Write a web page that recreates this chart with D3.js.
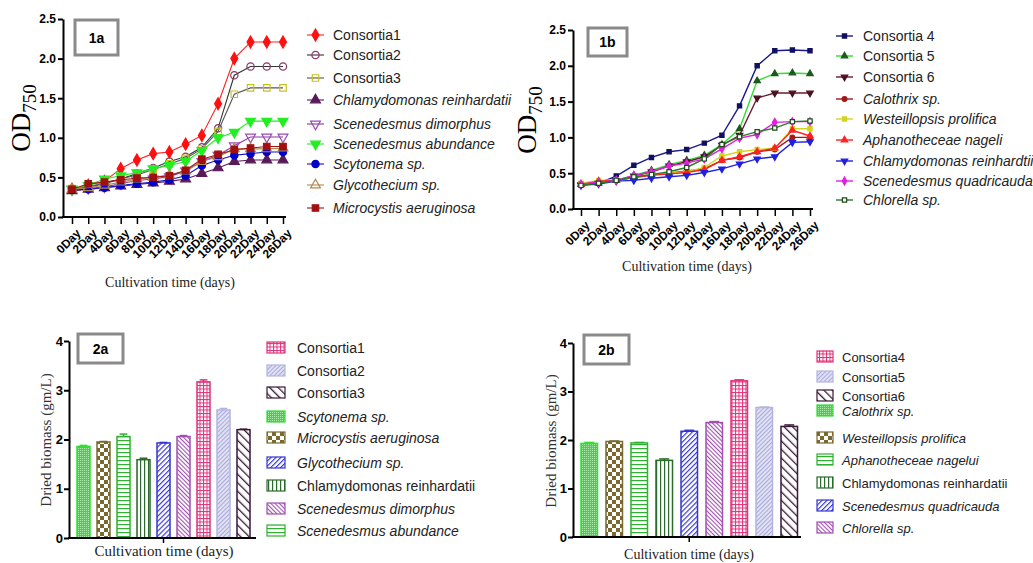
<!DOCTYPE html>
<html>
<head>
<meta charset="utf-8">
<script src="https://cdn.jsdelivr.net/npm/d3@7"></script>
<style>
body { margin: 0; background: #fff; }
svg { display: block; }
</style>
</head>
<body>
<div id="chart"></div>
<script>
// ---- data ----
const days = ['0Day', '2Day', '4Day', '6Day', '8Day', '10Day', '12Day', '14Day', '16Day', '18Day', '20Day', '22Day', '24Day', '26Day'];

// panel 1a
const names1a = ['Consortia1', 'Consortia2', 'Consortia3', 'Chlamydomonas reinhardatii', 'Scenedesmus dimorphus', 'Scenedesmus abundance', 'Scytonema sp.', 'Glycothecium sp.', 'Microcystis aeruginosa'];
const consortia1 = [0.35, 0.40, 0.45, 0.61, 0.72, 0.80, 0.82, 0.92, 1.03, 1.43, 2.00, 2.21, 2.21, 2.21];
const consortia2 = [0.35, 0.38, 0.42, 0.48, 0.55, 0.62, 0.70, 0.76, 0.88, 1.12, 1.79, 1.90, 1.90, 1.90];
const consortia3 = [0.36, 0.38, 0.43, 0.48, 0.53, 0.60, 0.67, 0.74, 0.86, 1.08, 1.55, 1.63, 1.63, 1.63];
const chlamy1a = [0.33, 0.35, 0.37, 0.39, 0.41, 0.43, 0.45, 0.48, 0.55, 0.62, 0.70, 0.72, 0.72, 0.72];
const dimorphus = [0.35, 0.36, 0.38, 0.42, 0.46, 0.48, 0.51, 0.58, 0.70, 0.78, 0.90, 1.01, 1.01, 1.01];
const abundance = [0.35, 0.40, 0.48, 0.52, 0.56, 0.61, 0.65, 0.70, 0.84, 1.00, 1.07, 1.21, 1.21, 1.21];
const scytonema = [0.34, 0.35, 0.37, 0.40, 0.42, 0.44, 0.47, 0.52, 0.65, 0.72, 0.78, 0.80, 0.82, 0.82];
const glycothecium = [0.35, 0.37, 0.40, 0.44, 0.48, 0.50, 0.53, 0.58, 0.70, 0.76, 0.86, 0.86, 0.86, 0.87];
const microcystis = [0.35, 0.42, 0.44, 0.47, 0.49, 0.50, 0.52, 0.59, 0.73, 0.79, 0.85, 0.87, 0.89, 0.89];

// panel 1b
const names1b = ['Consortia 4', 'Consortia 5', 'Consortia 6', 'Calothrix sp.', 'Westeillopsis prolifica', 'Aphanotheceae nageli', 'Chlamydomonas reinhardtii', 'Scenedesmus quadricauda', 'Chlorella sp.'];
const consortia4 = [0.35, 0.36, 0.46, 0.61, 0.72, 0.80, 0.83, 0.92, 1.03, 1.44, 2.00, 2.21, 2.22, 2.21];
const consortia5 = [0.34, 0.36, 0.40, 0.47, 0.54, 0.62, 0.68, 0.75, 0.90, 1.12, 1.79, 1.89, 1.90, 1.89];
const consortia6 = [0.34, 0.37, 0.40, 0.46, 0.52, 0.60, 0.66, 0.73, 0.89, 1.03, 1.55, 1.62, 1.62, 1.62];
const calothrix = [0.35, 0.37, 0.40, 0.44, 0.48, 0.50, 0.53, 0.56, 0.68, 0.72, 0.80, 0.83, 1.00, 1.00];
const westeillopsis = [0.36, 0.40, 0.41, 0.45, 0.48, 0.50, 0.52, 0.58, 0.74, 0.80, 0.83, 0.85, 1.12, 1.12];
const aphanotheceae = [0.34, 0.39, 0.40, 0.44, 0.47, 0.49, 0.51, 0.55, 0.68, 0.73, 0.80, 0.85, 1.10, 1.02];
const chlamy1b = [0.33, 0.35, 0.39, 0.40, 0.43, 0.45, 0.47, 0.51, 0.56, 0.63, 0.70, 0.73, 0.93, 0.94];
const quadricauda = [0.35, 0.37, 0.40, 0.47, 0.52, 0.60, 0.64, 0.70, 0.84, 0.99, 1.04, 1.21, 1.22, 1.22];
const chlorella = [0.33, 0.36, 0.40, 0.45, 0.48, 0.52, 0.58, 0.70, 0.90, 1.01, 1.08, 1.13, 1.22, 1.23];

// panel 2a (bar order left to right)
const bars2a = ['Scytonema sp.', 'Microcystis aeruginosa', 'Scenedesmus abundance', 'Chlamydomonas reinhardatii', 'Glycothecium sp.', 'Scenedesmus dimorphus', 'Consortia1', 'Consortia2', 'Consortia3'];
const biomass2a = [1.86, 1.95, 2.06, 1.59, 1.93, 2.06, 3.17, 2.60, 2.20];
const err2a = [0.02, 0.01, 0.05, 0.03, 0.01, 0.02, 0.04, 0.03, 0.01];
const legend2a = ['Consortia1', 'Consortia2', 'Consortia3', 'Scytonema sp.', 'Microcystis aeruginosa', 'Glycothecium sp.', 'Chlamydomonas reinhardatii', 'Scenedesmus dimorphus', 'Scenedesmus abundance'];

// panel 2b
const bars2b = ['Calothrix sp.', 'Westeillopsis prolifica', 'Aphanotheceae nagelui', 'Chlamydomonas reinhardatii', 'Scenedesmus quadricauda', 'Chlorella sp.', 'Consortia4', 'Consortia5', 'Consortia6'];
const biomass2b = [1.93, 1.97, 1.94, 1.58, 2.18, 2.36, 3.22, 2.67, 2.28];
const err2b = [0.02, 0.01, 0.01, 0.03, 0.02, 0.02, 0.02, 0.01, 0.03];
const legend2b = ['Consortia4', 'Consortia5', 'Consortia6', 'Calothrix sp.', 'Westeillopsis prolifica', 'Aphanotheceae nagelui', 'Chlamydomonas reinhardatii', 'Scenedesmus quadricauda', 'Chlorella sp.'];

// ---- styles ----
const style1a = [
    { line: '#ff2020', stroke: '#ff1010', fill: '#ff1010', sym: 'diamond' },
    { line: '#333', stroke: '#8a3a66', fill: 'none', sym: 'circle' },
    { line: '#555', stroke: '#c8c21e', fill: 'none', sym: 'square' },
    { line: '#5a1a5a', stroke: '#5a1a5a', fill: '#5a1a5a', sym: 'triangle' },
    { line: '#8a3a9a', stroke: '#9a4ab8', fill: 'none', sym: 'triangleDown' },
    { line: '#22ee22', stroke: '#22ee22', fill: '#22ee22', sym: 'triangleDown' },
    { line: '#1010cc', stroke: '#0000cc', fill: '#0000cc', sym: 'circle' },
    { line: '#b08850', stroke: '#b08850', fill: 'none', sym: 'triangle' },
    { line: '#a01515', stroke: '#a01010', fill: '#a01010', sym: 'square' }
];
const style1b = [
    { line: '#1a1a8c', stroke: '#101060', fill: '#101060', sym: 'square' },
    { line: '#33dd33', stroke: '#1a5a1a', fill: '#1a5a1a', sym: 'triangle' },
    { line: '#6a1a30', stroke: '#4a1020', fill: '#4a1020', sym: 'triangleDown' },
    { line: '#a01a1a', stroke: '#a01a1a', fill: '#a01a1a', sym: 'circle' },
    { line: '#d4d420', stroke: '#d4d420', fill: '#d4d420', sym: 'square' },
    { line: '#ff2020', stroke: '#ff2020', fill: '#ff2020', sym: 'triangle' },
    { line: '#2020e0', stroke: '#2020e0', fill: '#2020e0', sym: 'triangleDown' },
    { line: '#e020e0', stroke: '#e020e0', fill: '#e020e0', sym: 'diamond' },
    { line: '#2a7a2a', stroke: '#1a4a1a', fill: '#fff', sym: 'square' }
];

const serif = '"Liberation Serif", "DejaVu Serif", serif';
const sans = '"Liberation Sans", Arial, sans-serif';

const svg = d3.select('#chart').append('svg')
    .attr('width', 1033)
    .attr('height', 563);

const defs = svg.append('defs');

// patterns for bars
function makePattern(id, size, color, bg, draw, rotate) {
    let p = defs.append('pattern')
        .attr('id', id)
        .attr('patternUnits', 'userSpaceOnUse')
        .attr('width', size)
        .attr('height', size);
    if (rotate) p.attr('patternTransform', `rotate(${rotate})`);
    p.append('rect').attr('width', size).attr('height', size).attr('fill', bg);
    draw(p, color, size);
}
const vline = (w) => (p, c, s) => p.append('line').attr('x1', 0.5).attr('x2', 0.5).attr('y1', 0).attr('y2', s).attr('stroke', c).attr('stroke-width', w);
const hline = (w) => (p, c, s) => p.append('line').attr('y1', 0.5).attr('y2', 0.5).attr('x1', 0).attr('x2', s).attr('stroke', c).attr('stroke-width', w);

makePattern('p-grid', 3.5, '#e0307a', '#fff', (p, c, s) => {
    vline(1)(p, c, s);
    hline(1)(p, c, s);
});
makePattern('p-lav', 3, '#a8a8dc', '#e4e4f4', vline(1.2), 45);
makePattern('p-dark', 6, '#3a1838', '#fff', vline(1.6), -45);
makePattern('p-dots', 2, '#33dd33', '#33dd33', (p, c, s) => {
    p.append('rect').attr('width', 1).attr('height', 1).attr('fill', '#a8f0a8');
});
makePattern('p-check', 8, '#7a6a30', '#fff', (p, c, s) => {
    p.append('rect').attr('width', 4).attr('height', 4).attr('fill', c);
    p.append('rect').attr('x', 4).attr('y', 4).attr('width', 4).attr('height', 4).attr('fill', c);
});
makePattern('p-blue', 3.5, '#3434d0', '#fff', vline(1.3), 45);
makePattern('p-vert', 4, '#2a6a2a', '#fff', vline(1.4));
makePattern('p-purple', 3, '#a050b0', '#fff', vline(1.2), -45);
makePattern('p-horiz', 4, '#30b030', '#fff', hline(1.4));

const barStyle = {
    'Consortia1': { pat: 'p-grid', stroke: '#e0307a' },
    'Consortia4': { pat: 'p-grid', stroke: '#e0307a' },
    'Consortia2': { pat: 'p-lav', stroke: '#b4b4e0' },
    'Consortia5': { pat: 'p-lav', stroke: '#b4b4e0' },
    'Consortia3': { pat: 'p-dark', stroke: '#3a1838' },
    'Consortia6': { pat: 'p-dark', stroke: '#3a1838' },
    'Scytonema sp.': { pat: 'p-dots', stroke: '#33dd33' },
    'Calothrix sp.': { pat: 'p-dots', stroke: '#33dd33' },
    'Microcystis aeruginosa': { pat: 'p-check', stroke: '#7a6a30' },
    'Westeillopsis prolifica': { pat: 'p-check', stroke: '#7a6a30' },
    'Glycothecium sp.': { pat: 'p-blue', stroke: '#3434d0' },
    'Scenedesmus quadricauda': { pat: 'p-blue', stroke: '#3434d0' },
    'Chlamydomonas reinhardatii': { pat: 'p-vert', stroke: '#2a6a2a' },
    'Scenedesmus dimorphus': { pat: 'p-purple', stroke: '#a050b0' },
    'Chlorella sp.': { pat: 'p-purple', stroke: '#a050b0' },
    'Scenedesmus abundance': { pat: 'p-horiz', stroke: '#30b030' },
    'Aphanotheceae nagelui': { pat: 'p-horiz', stroke: '#30b030' }
};

const symbols = {
    diamond: d3.symbolDiamond,
    circle: d3.symbolCircle,
    square: d3.symbolSquare,
    triangle: d3.symbolTriangle,
    triangleDown: d3.symbolTriangle
};

function isItalic(name, plainChlamy) {
    if (name.startsWith('Consortia')) return false;
    if (plainChlamy && name.startsWith('Chlamydomonas')) return false;
    return true;
}

function panelBox(x, y, w, h, label) {
    svg.append('rect')
        .attr('x', x).attr('y', y)
        .attr('width', w).attr('height', h)
        .attr('fill', '#fff')
        .attr('stroke', '#8a8a8a')
        .attr('stroke-width', 3);
    svg.append('text')
        .attr('x', x + w / 2).attr('y', y + h / 2 + 5)
        .attr('text-anchor', 'middle')
        .attr('font-family', sans)
        .attr('font-weight', 'bold')
        .attr('font-size', 14)
        .text(label);
}

function odLabel(cx, cy) {
    let t = svg.append('text')
        .attr('transform', `translate(${cx},${cy}) rotate(-90)`)
        .attr('text-anchor', 'middle')
        .attr('font-family', serif)
        .attr('font-size', 27);
    t.append('tspan').text('OD');
    t.append('tspan').attr('font-size', 19).attr('dy', 6).text('750');
}

function xTitle(cx, y, size) {
    svg.append('text')
        .attr('x', cx).attr('y', y)
        .attr('text-anchor', 'middle')
        .attr('font-family', serif)
        .attr('font-size', size)
        .attr('fill', '#222')
        .text('Cultivation time (days)');
}

function drawLinePanel(o) {
    let x = d3.scalePoint().domain(days).range([o.xFirst, o.xLast]);
    let y = d3.scaleLinear().domain([0, 2.5]).range([o.yBottom, o.yTop]);
    let g = svg.append('g');

    // y axis
    let yAxis = g.append('g')
        .attr('transform', `translate(${o.xAxis},0)`)
        .call(d3.axisLeft(y).tickValues([0, 0.5, 1, 1.5, 2, 2.5]).tickFormat(d3.format('.1f')).tickSize(5).tickSizeOuter(0));
    yAxis.select('.domain').attr('stroke-width', 2);
    yAxis.selectAll('.tick line').attr('stroke-width', 2);
    yAxis.selectAll('text')
        .attr('font-family', sans)
        .attr('font-weight', 'bold')
        .attr('font-size', 12)
        .attr('x', -7);

    // x axis
    let xAxis = g.append('g')
        .attr('transform', `translate(0,${o.yBottom})`)
        .call(d3.axisBottom(x).tickSize(7).tickSizeOuter(0));
    xAxis.select('.domain').remove();
    xAxis.selectAll('.tick line').attr('stroke-width', 1.5);
    xAxis.append('line')
        .attr('x1', o.xAxis - 1).attr('x2', o.xLast + 3)
        .attr('stroke', '#000').attr('stroke-width', 2);
    xAxis.selectAll('text')
        .attr('font-family', sans)
        .attr('font-weight', 'bold')
        .attr('font-size', 12)
        .attr('text-anchor', 'end')
        .attr('x', 0).attr('y', 0).attr('dy', '0.35em')
        .attr('transform', 'translate(6,14) rotate(-45)');

    // lines and markers
    o.values.forEach((vals, i) => {
        let st = o.styles[i];
        let pts = vals.map((v, j) => [x(days[j]), y(v)]);
        g.append('path')
            .datum(pts)
            .attr('fill', 'none')
            .attr('stroke', st.line)
            .attr('stroke-width', o.lineWidth)
            .attr('d', d3.line());
        g.selectAll(null)
            .data(pts)
            .enter()
            .append('path')
            .attr('transform', d => `translate(${d[0]},${d[1]})` + (st.sym === 'triangleDown' ? ' rotate(180)' : ''))
            .attr('d', d3.symbol(symbols[st.sym], o.symSize))
            .attr('fill', st.fill)
            .attr('stroke', st.stroke)
            .attr('stroke-width', 1.2);
    });

    // legend
    o.names.forEach((name, i) => {
        let st = o.styles[i];
        let ly = o.legendYs[i];
        let lg = svg.append('g').attr('transform', `translate(${o.legendX},${ly})`);
        lg.append('line')
            .attr('x1', 0).attr('x2', o.legendLine)
            .attr('stroke', st.line)
            .attr('stroke-width', o.lineWidth);
        lg.append('path')
            .attr('transform', `translate(${o.legendLine / 2},0)` + (st.sym === 'triangleDown' ? ' rotate(180)' : ''))
            .attr('d', d3.symbol(symbols[st.sym], o.symSize))
            .attr('fill', st.fill)
            .attr('stroke', st.stroke)
            .attr('stroke-width', 1.2);
        lg.append('text')
            .attr('x', o.legendText)
            .attr('y', 5)
            .attr('font-family', sans)
            .attr('font-size', 14)
            .attr('font-style', isItalic(name, false) ? 'italic' : 'normal')
            .attr('fill', '#222')
            .text(name);
    });
}

function drawBarPanel(o) {
    let x = d3.scaleBand().domain(o.bars).range([o.r0, o.r1]).paddingInner(o.padIn).paddingOuter(o.padIn / 2);
    let y = d3.scaleLinear().domain([0, 4]).range([o.yBottom, o.yTop]);
    let g = svg.append('g');

    // bars
    g.selectAll('rect.bar')
        .data(o.bars)
        .enter()
        .append('rect')
        .attr('class', 'bar')
        .attr('x', d => x(d))
        .attr('y', (d, i) => y(o.values[i]))
        .attr('width', x.bandwidth())
        .attr('height', (d, i) => o.yBottom - y(o.values[i]))
        .attr('fill', d => `url(#${barStyle[d].pat})`)
        .attr('stroke', d => barStyle[d].stroke)
        .attr('stroke-width', 1.5);

    // error bars
    o.bars.forEach((d, i) => {
        let cx = x(d) + x.bandwidth() / 2;
        let top = y(o.values[i] + o.errs[i]);
        g.append('line')
            .attr('x1', cx).attr('x2', cx)
            .attr('y1', y(o.values[i])).attr('y2', top)
            .attr('stroke', barStyle[d].stroke).attr('stroke-width', 1.5);
        g.append('line')
            .attr('x1', cx - x.bandwidth() * 0.3).attr('x2', cx + x.bandwidth() * 0.3)
            .attr('y1', top).attr('y2', top)
            .attr('stroke', barStyle[d].stroke).attr('stroke-width', 1.5);
    });

    // y axis
    let yAxis = g.append('g')
        .attr('transform', `translate(${o.xAxis},0)`)
        .call(d3.axisLeft(y).ticks(4).tickFormat(d3.format('d')).tickSize(5).tickSizeOuter(0));
    yAxis.select('.domain').attr('stroke-width', 2);
    yAxis.selectAll('.tick line').attr('stroke-width', 2);
    yAxis.selectAll('text')
        .attr('font-family', sans)
        .attr('font-weight', 'bold')
        .attr('font-size', 13)
        .attr('x', -6);

    // x axis line with a single centre tick
    g.append('line')
        .attr('x1', o.xAxis - 1).attr('x2', o.xEnd)
        .attr('y1', o.yBottom).attr('y2', o.yBottom)
        .attr('stroke', '#000').attr('stroke-width', 2);
    let mid = (x(o.bars[0]) + x(o.bars[o.bars.length - 1]) + x.bandwidth()) / 2;
    g.append('line')
        .attr('x1', mid).attr('x2', mid)
        .attr('y1', o.yBottom).attr('y2', o.yBottom + 5)
        .attr('stroke', '#000').attr('stroke-width', 1.5);

    // y title
    svg.append('text')
        .attr('transform', `translate(${o.yTitleX},${o.yTitleY}) rotate(-90)`)
        .attr('text-anchor', 'middle')
        .attr('font-family', serif)
        .attr('font-size', 15)
        .attr('fill', '#333')
        .text('Dried biomass (gm/L)');

    // legend
    o.legend.forEach((name, i) => {
        let ly = o.legendYs[i];
        svg.append('rect')
            .attr('x', o.legendX).attr('y', ly - 6)
            .attr('width', o.swatchW).attr('height', 11)
            .attr('fill', `url(#${barStyle[name].pat})`)
            .attr('stroke', barStyle[name].stroke)
            .attr('stroke-width', 1.2);
        svg.append('text')
            .attr('x', o.legendText).attr('y', ly + 5)
            .attr('font-family', sans)
            .attr('font-size', o.legendSize)
            .attr('font-style', isItalic(name, true) ? 'italic' : 'normal')
            .attr('fill', '#222')
            .text(name);
    });
}

// ---- panel 1a ----
drawLinePanel({
    names: names1a,
    values: [consortia1, consortia2, consortia3, chlamy1a, dimorphus, abundance, scytonema, glycothecium, microcystis],
    styles: style1a,
    xAxis: 63, xFirst: 72, xLast: 283,
    yTop: 19, yBottom: 217,
    symSize: 42, lineWidth: 1.1,
    legendX: 307, legendLine: 17, legendText: 26,
    legendYs: [35, 55, 78, 100, 124, 144, 164, 185, 208]
});
panelBox(75, 20, 43, 35, '1a');
odLabel(30, 118);
xTitle(170, 287, 14);

// ---- panel 1b ----
drawLinePanel({
    names: names1b,
    values: [consortia4, consortia5, consortia6, calothrix, westeillopsis, aphanotheceae, chlamy1b, quadricauda, chlorella],
    styles: style1b,
    xAxis: 573, xFirst: 581, xLast: 810,
    yTop: 30, yBottom: 209,
    symSize: 18, lineWidth: 1.4,
    legendX: 836, legendLine: 17, legendText: 27,
    legendYs: [36, 56, 77, 99, 119, 140, 161, 181, 200]
});
panelBox(588, 28, 39, 28, '1b');
odLabel(536, 120);
xTitle(687, 271, 14);

// ---- panel 2a ----
drawBarPanel({
    bars: bars2a, values: biomass2a, errs: err2a, legend: legend2a,
    r0: 73.5, r1: 253.5, padIn: 0.35,
    xAxis: 69, xEnd: 256,
    yTop: 341, yBottom: 538,
    yTitleX: 51, yTitleY: 440,
    legendX: 267, swatchW: 18, legendText: 297, legendSize: 14,
    legendYs: [348, 371, 393, 417, 438, 463, 486, 509, 531]
});
panelBox(78, 334, 45, 29, '2a');
xTitle(164, 556, 15);

// ---- panel 2b ----
drawBarPanel({
    bars: bars2b, values: biomass2b, errs: err2b, legend: legend2b,
    r0: 576.75, r1: 801.75, padIn: 0.34,
    xAxis: 573, xEnd: 801,
    yTop: 343, yBottom: 537,
    yTitleX: 556, yTitleY: 441,
    legendX: 817, swatchW: 16, legendText: 842, legendSize: 13,
    legendYs: [357, 377, 396, 411, 438, 460, 483, 506, 528]
});
panelBox(584, 335, 45, 29, '2b');
xTitle(689, 559, 14);
</script>
</body>
</html>
